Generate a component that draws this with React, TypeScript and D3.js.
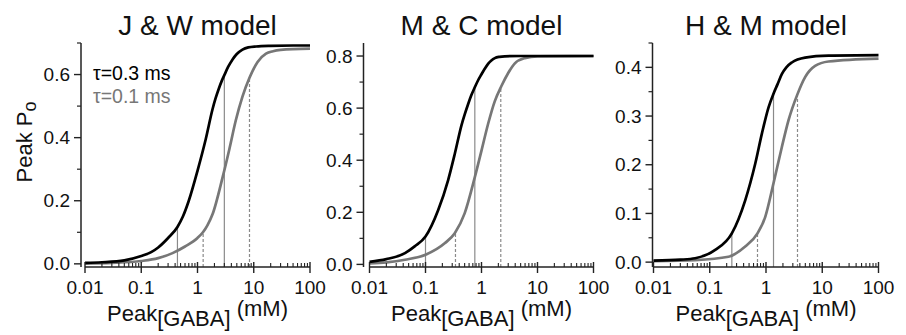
import React from "react";
import * as d3 from "d3";

// ---------- data ----------
const titles = ["J & W model", "M & C model", "H & M model"];
const xTickValues = [0.01, 0.1, 1, 10, 100];
const xTickLabels = ["0.01", "0.1", "1", "10", "100"];
const legendLabels = ["τ=0.3 ms", "τ=0.1 ms"];

// J & W model
const jwX03 = [0.01, 0.02, 0.05, 0.1, 0.15, 0.2, 0.3, 0.44, 0.55, 0.7, 1.0, 1.4, 1.85, 2.1, 2.4, 2.7, 3.0, 3.5, 4.2, 5, 6.3, 8, 11, 20, 50, 100];
const jwY03 = [0.003, 0.005, 0.011, 0.025, 0.037, 0.052, 0.082, 0.117, 0.15, 0.2, 0.295, 0.395, 0.49, 0.525, 0.556, 0.58, 0.598, 0.624, 0.648, 0.665, 0.679, 0.686, 0.689, 0.691, 0.692, 0.692];
const jwX01 = [0.01, 0.03, 0.1, 0.2, 0.36, 0.6, 1.0, 1.25, 1.5, 1.85, 2.8, 3.7, 4.8, 6.3, 8.4, 11.7, 16.5, 22, 30, 100];
const jwY01 = [0.001, 0.003, 0.009, 0.018, 0.034, 0.055, 0.082, 0.1, 0.122, 0.157, 0.275, 0.365, 0.455, 0.53, 0.59, 0.64, 0.666, 0.674, 0.678, 0.682];
const jwMarkX03 = [0.44, 3.0];
const jwMarkY03 = [0.117, 0.598];
const jwMarkX01 = [1.26, 8.4];
const jwMarkY01 = [0.1, 0.585];

// M & C model
const mcX03 = [0.01, 0.02, 0.043, 0.064, 0.1, 0.168, 0.253, 0.333, 0.44, 0.5, 0.576, 0.66, 0.76, 0.87, 1.0, 1.15, 1.31, 1.5, 1.73, 2.1, 2.6, 5, 100];
const mcY03 = [0.01, 0.02, 0.043, 0.069, 0.107, 0.208, 0.323, 0.424, 0.535, 0.575, 0.615, 0.65, 0.68, 0.707, 0.73, 0.752, 0.77, 0.783, 0.792, 0.797, 0.799, 0.8, 0.8];
const mcX01 = [0.01, 0.02, 0.043, 0.1, 0.22, 0.333, 0.5, 0.76, 1.0, 1.31, 1.73, 2.27, 3.0, 3.94, 5.9, 10, 100];
const mcY01 = [0.004, 0.008, 0.018, 0.037, 0.081, 0.12, 0.196, 0.335, 0.437, 0.539, 0.627, 0.685, 0.735, 0.772, 0.792, 0.799, 0.8];
const mcMarkX03 = [0.1, 0.76];
const mcMarkY03 = [0.107, 0.678];
const mcMarkX01 = [0.343, 2.21];
const mcMarkY01 = [0.12, 0.68];

// H & M model
const hmX03 = [0.01, 0.03, 0.055, 0.125, 0.247, 0.427, 0.643, 0.845, 1.11, 1.36, 1.6, 1.91, 2.3, 2.88, 4.96, 12.9, 100];
const hmY03 = [0.003, 0.005, 0.008, 0.025, 0.059, 0.127, 0.202, 0.264, 0.318, 0.346, 0.365, 0.386, 0.4, 0.41, 0.42, 0.424, 0.425];
const hmX01 = [0.01, 0.055, 0.215, 0.427, 0.706, 0.97, 1.36, 1.91, 2.51, 3.63, 4.96, 7.46, 12.9, 100];
const hmY01 = [0.002, 0.004, 0.011, 0.032, 0.059, 0.093, 0.162, 0.236, 0.291, 0.345, 0.38, 0.403, 0.412, 0.418];
const hmMarkX03 = [0.247, 1.36];
const hmMarkY03 = [0.059, 0.346];
const hmMarkX01 = [0.706, 3.63];
const hmMarkY01 = [0.059, 0.34];

const yMajorJW = [0, 0.2, 0.4, 0.6];
const yMinorJW = [0.1, 0.3, 0.5, 0.7];
const yMajorMC = [0, 0.2, 0.4, 0.6, 0.8];
const yMinorMC = [0.1, 0.3, 0.5, 0.7];
const yMajorHM = [0, 0.1, 0.2, 0.3, 0.4];
const yMinorHM = [0.05, 0.15, 0.25, 0.35, 0.45];
const yDomains: [number, number][] = [[-0.01, 0.7], [-0.01, 0.85], [-0.01, 0.45]];

// ---------- layout ----------
const W = 906, H = 335;
const FONT = "'Liberation Sans', Arial, Helvetica, sans-serif";
const AXIS_Y = 267;
const AXIS_TOP = 43;
const layout = [
  { yAxisX: 81, x0: 85, x1: 310 },
  { yAxisX: 363.5, x0: 369.5, x1: 593.5 },
  { yAxisX: 652.5, x0: 653.5, x1: 878.5 },
];
const BLACK = "#000";
const GRAY = "#777";
const MARK = "#8a8a8a";

const panels = [
  { x03: jwX03, y03: jwY03, x01: jwX01, y01: jwY01, mx03: jwMarkX03, my03: jwMarkY03, mx01: jwMarkX01, my01: jwMarkY01, major: yMajorJW, minor: yMinorJW },
  { x03: mcX03, y03: mcY03, x01: mcX01, y01: mcY01, mx03: mcMarkX03, my03: mcMarkY03, mx01: mcMarkX01, my01: mcMarkY01, major: yMajorMC, minor: yMinorMC },
  { x03: hmX03, y03: hmY03, x01: hmX01, y01: hmY01, mx03: hmMarkX03, my03: hmMarkY03, mx01: hmMarkX01, my01: hmMarkY01, major: yMajorHM, minor: yMinorHM },
];

const minorX: number[] = [];
[0.01, 0.1, 1, 10].forEach((d) => {
  for (let k = 2; k <= 9; k++) minorX.push(d * k);
});

function Panel({ i }: { i: number }) {
  const p = panels[i];
  const L = layout[i];
  const x = d3.scaleLog().domain([0.01, 100]).range([L.x0, L.x1]);
  const y = d3.scaleLinear().domain(yDomains[i]).range([AXIS_Y, AXIS_TOP]);
  const line = d3
    .line<[number, number]>()
    .x((d) => x(d[0]))
    .y((d) => y(d[1]))
    .curve(d3.curveMonotoneX);
  const pts03 = p.x03.map((v, k) => [v, p.y03[k]] as [number, number]);
  const pts01 = p.x01.map((v, k) => [v, p.y01[k]] as [number, number]);
  const fmt = d3.format(".1f");
  const cx = (L.x0 + L.x1) / 2;
  return (
    <g>
      <text x={cx} y={35} textAnchor="middle" fontSize={28} fontFamily={FONT} fill="#111">
        {titles[i]}
      </text>
      {p.mx03.map((v, k) => (
        <line key={"s" + k} x1={x(v)} x2={x(v)} y1={AXIS_Y} y2={y(p.my03[k])} stroke={MARK} strokeWidth={1.2} />
      ))}
      {p.mx01.map((v, k) => (
        <line key={"d" + k} x1={x(v)} x2={x(v)} y1={AXIS_Y} y2={y(p.my01[k])} stroke={MARK} strokeWidth={1.2} strokeDasharray="3,2" />
      ))}
      <path d={line(pts01) || ""} fill="none" stroke={GRAY} strokeWidth={2.7} />
      <path d={line(pts03) || ""} fill="none" stroke={BLACK} strokeWidth={2.7} />
      <line x1={L.yAxisX} x2={L.yAxisX} y1={AXIS_TOP} y2={AXIS_Y} stroke="#222" strokeWidth={1.5} />
      {p.major.map((v) => (
        <g key={"ym" + v}>
          <line x1={L.yAxisX - 7} x2={L.yAxisX} y1={y(v)} y2={y(v)} stroke="#222" strokeWidth={1.4} />
          <text x={L.yAxisX - 11} y={y(v)} dy="0.35em" textAnchor="end" fontSize={19} fontFamily={FONT} fill="#111">
            {fmt(v)}
          </text>
        </g>
      ))}
      {p.minor.map((v) => (
        <line key={"yn" + v} x1={L.yAxisX - 4} x2={L.yAxisX} y1={y(v)} y2={y(v)} stroke="#222" strokeWidth={1.2} />
      ))}
      <line x1={L.x0} x2={L.x1} y1={AXIS_Y} y2={AXIS_Y} stroke="#222" strokeWidth={1.5} />
      {xTickValues.map((v, k) => (
        <g key={"xm" + v}>
          <line x1={x(v)} x2={x(v)} y1={AXIS_Y - 5} y2={AXIS_Y + 6} stroke="#222" strokeWidth={1.4} />
          <text x={x(v)} y={294} textAnchor="middle" fontSize={19} fontFamily={FONT} fill="#111">
            {xTickLabels[k]}
          </text>
        </g>
      ))}
      {minorX.map((v) => (
        <line key={"xn" + v} x1={x(v)} x2={x(v)} y1={AXIS_Y - 4} y2={AXIS_Y} stroke="#222" strokeWidth={1.1} />
      ))}
      <text x={cx} y={321} textAnchor="middle" fontSize={22} fontFamily={FONT} fill="#111">
        <tspan>Peak</tspan>
        <tspan dy={5}>[GABA]</tspan>
        <tspan dy={-10}>{"\u00a0(mM)"}</tspan>
      </text>
    </g>
  );
}

export default function App() {
  return (
    <svg width={W} height={H} style={{ position: "absolute", left: 0, top: 0, background: "#fff" }}>
      <rect width={W} height={H} fill="#fff" />
      {[0, 1, 2].map((i) => (
        <Panel key={i} i={i} />
      ))}
      <text transform="translate(32,142) rotate(-90)" textAnchor="middle" fontSize={22} fontFamily={FONT} fill="#111">
        <tspan>Peak P</tspan>
        <tspan dy={4} fontSize={18}>o</tspan>
      </text>
      <text x={93} y={80} fontSize={19.5} fontFamily={FONT} fill={BLACK}>
        {legendLabels[0]}
      </text>
      <text x={93} y={103} fontSize={19.5} fontFamily={FONT} fill={GRAY}>
        {legendLabels[1]}
      </text>
    </svg>
  );
}
